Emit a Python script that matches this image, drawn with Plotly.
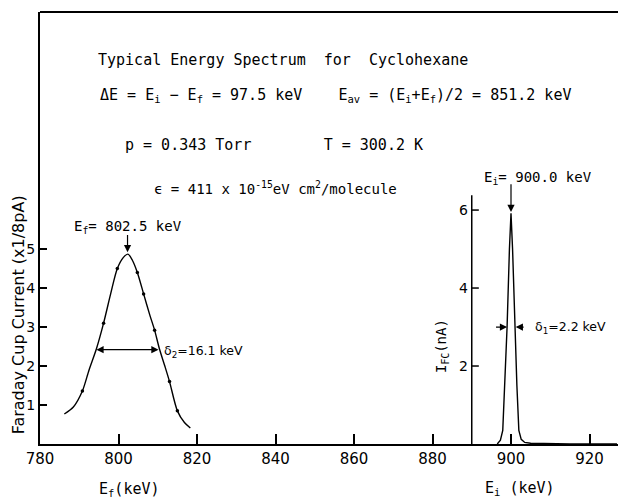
import plotly.graph_objects as go

# ---- data ----
x_ticks = [780, 800, 820, 840, 860, 880, 900, 920]
x_tick_labels = ["780", "800", "820", "840", "860", "880", "900", "920"]
left_y_ticks = [1, 2, 3, 4, 5]
right_y_ticks = [2, 4, 6]

# final-energy spectrum (Faraday cup current, x1/8 pA)
ef_x = [786.2, 788.5, 790.8, 792.5, 794.4, 796.2, 798.0, 799.7, 801.2, 802.4,
        803.5, 804.8, 806.4, 808.0, 809.2, 810.4, 811.8, 813.0, 815.0, 816.8, 818.3]
ef_y = [0.77, 0.95, 1.36, 1.9, 2.45, 3.1, 3.85, 4.5, 4.78, 4.87,
        4.72, 4.4, 3.85, 3.3, 2.92, 2.45, 2.0, 1.6, 0.85, 0.55, 0.41]
# measured points marked with dots
ef_pts_x = [790.8, 796.2, 799.7, 804.8, 806.4, 809.2, 813.0, 815.0]
ef_pts_y = [1.36, 3.1, 4.5, 4.4, 3.85, 2.92, 1.6, 0.85]

# initial-energy spectrum (I_FC, nA)
ei_x = [896.5, 897.3, 897.9, 898.4, 899.0, 899.6, 900.0, 900.4, 901.0,
        901.5, 902.0, 902.6, 903.5, 905.0, 915.0, 927.0]
ei_y = [0.0, 0.1, 0.35, 1.5, 3.0, 5.0, 5.92, 5.0, 3.0,
        1.5, 0.35, 0.12, 0.04, 0.02, 0.0, 0.0]

FONT = "DejaVu Sans"
MONO = "DejaVu Sans Mono"
NB = "\u00a0"

fig = go.Figure()
fig.add_trace(go.Scatter(x=ef_x, y=ef_y, mode="lines",
                         line=dict(color="black", width=1.4, shape="spline", smoothing=0.8),
                         showlegend=False))
fig.add_trace(go.Scatter(x=ef_pts_x, y=ef_pts_y, mode="markers",
                         marker=dict(color="black", size=3.5), showlegend=False))
fig.add_trace(go.Scatter(x=ei_x, y=ei_y, mode="lines",
                         line=dict(color="black", width=1.4), showlegend=False))

# inner axis for the I_FC scale
fig.add_shape(type="line", x0=890, x1=890, y0=0, y1=6.38,
              line=dict(color="black", width=1.5))
for v in right_y_ticks:
    fig.add_shape(type="line", x0=890, x1=891.8, y0=v, y1=v,
                  line=dict(color="black", width=1.5))
    fig.add_annotation(x=889.6, y=v, text=str(v), showarrow=False,
                       xanchor="right", font=dict(size=14, family=FONT))
# top border
fig.add_shape(type="line", xref="paper", yref="paper", x0=0, x1=1, y0=1, y1=1,
              line=dict(color="black", width=2))

def txt(x, y, t, size=14, family=MONO, **kw):
    fig.add_annotation(x=x, y=y, text=t, showarrow=False,
                       font=dict(size=size, family=family), **kw)

txt(842.0, 9.85, f"Typical Energy Spectrum{NB}{NB}for{NB}{NB}Cyclohexane", 15)
txt(855.3, 8.95, f"ΔE = E<sub>i</sub> − E<sub>f</sub> = 97.5 keV{NB}{NB}{NB}{NB}E<sub>av</sub> = (E<sub>i</sub>+E<sub>f</sub>)/2 = 851.2 keV", 15)
txt(839.6, 7.67, f"p = 0.343 Torr{NB}{NB}{NB}{NB}{NB}{NB}{NB}{NB}T = 300.2 K", 15)
txt(840.1, 6.56, "ϵ = 411 x 10<sup>-15</sup>eV cm<sup>2</sup>/molecule", 14)

txt(802.3, 5.56, "E<sub>f</sub>= 802.5 keV", 14)
txt(906.8, 6.82, "E<sub>i</sub>= 900.0 keV", 14)
txt(811.0, 2.36, "δ<sub>2</sub>=16.1 keV", 12.5, family=FONT, xanchor="left")
txt(905.5, 3.00, "δ<sub>1</sub>=2.2 keV", 12.5, family=FONT, xanchor="left")
txt(882.3, 2.5, "I<sub>FC</sub>(nA)", 14, textangle=-90)
fig.add_annotation(x=802.8, y=-46 / 432, yref="paper", text="E<sub>f</sub>(keV)",
                   showarrow=False, font=dict(size=15, family=MONO), yanchor="middle")
fig.add_annotation(x=902.4, y=-44 / 432, yref="paper", text="E<sub>i</sub> (keV)",
                   showarrow=False, font=dict(size=15, family=MONO), yanchor="middle")
fig.add_annotation(x=0, xref="paper", y=3.3, text="Faraday Cup Current (x1/8pA)",
                   showarrow=False, textangle=-90, xshift=-22, xanchor="center",
                   yanchor="middle", font=dict(size=16, family=FONT))

def arrow(x, y, ax, ay, side="end"):
    fig.add_annotation(x=x, y=y, ax=ax, ay=ay, axref="x", ayref="y", text="",
                       showarrow=True, arrowhead=2, arrowsize=1.2, arrowwidth=1.2,
                       arrowcolor="black", arrowside=side)

arrow(802.3, 4.92, 802.3, 5.4)
arrow(900.0, 5.95, 900.0, 6.7)
arrow(810.2, 2.42, 794.0, 2.42, side="end+start")
arrow(899.0, 3.0, 895.8, 3.0)
arrow(901.2, 3.0, 903.6, 3.0)

fig.update_layout(
    width=618, height=499,
    margin=dict(l=40, r=0, t=12, b=55),
    paper_bgcolor="white", plot_bgcolor="white",
    font=dict(family=FONT, color="black"),
    showlegend=False,
)
fig.update_xaxes(range=[780, 927.26], tickvals=x_ticks, ticktext=x_tick_labels,
                 ticks="inside", ticklen=10, tickwidth=1.5, tickcolor="black",
                 showline=True, linecolor="black", linewidth=2, showgrid=False,
                 zeroline=False, tickfont=dict(size=15))
fig.update_yaxes(range=[0, 11.08], tickvals=left_y_ticks,
                 ticktext=[str(v) for v in left_y_ticks],
                 ticks="inside", ticklen=7, tickwidth=1.5, tickcolor="black",
                 showline=True, linecolor="black", linewidth=2, showgrid=False,
                 zeroline=False, tickfont=dict(size=14))

fig.write_html("out.html", config={"displayModeBar": False},
               post_script="document.body.style.margin='0';document.body.style.overflow='hidden';")
